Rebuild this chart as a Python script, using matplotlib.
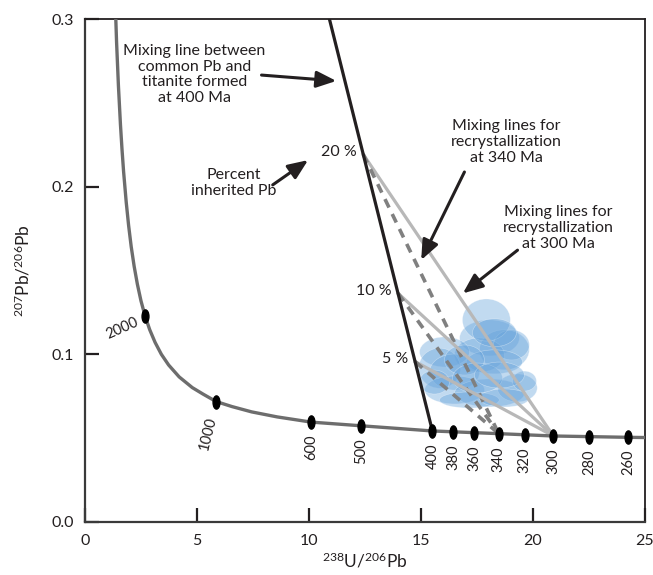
import matplotlib
matplotlib.use('Agg')
import matplotlib.pyplot as plt
from matplotlib.patches import Ellipse
from matplotlib.markers import MarkerStyle
from matplotlib.transforms import Affine2D

plt.rcParams['font.family'] = ['Lato', 'DejaVu Sans']
plt.rcParams['mathtext.fontset'] = 'custom'
plt.rcParams['mathtext.rm'] = 'Lato'
plt.rcParams['mathtext.default'] = 'regular'

# Concordia curve
conc_x = [1.355, 1.37, 1.408, 1.491, 1.583, 1.650, 1.721, 1.839, 1.946, 2.062, 2.193, 2.337, 2.497,
          2.68, 2.888, 3.129, 3.408, 3.733, 4.203, 4.790, 5.273, 5.85, 6.554, 7.439, 8.578,
          10.09, 12.32, 15.51, 18.47, 20.91, 24.26, 25.5]
conc_y = [0.310, 0.302, 0.2867, 0.2605, 0.2370, 0.2227, 0.2093, 0.1909, 0.1770, 0.1643, 0.1526, 0.1419, 0.1320,
          0.1229, 0.1147, 0.1071, 0.1000, 0.0936, 0.0865, 0.0801, 0.0762, 0.0718, 0.0688, 0.0656, 0.0626,
          0.0595, 0.0573, 0.0542, 0.0526, 0.0512, 0.0504, 0.0502]

# Age markers on the concordia (Ma)
age_labels = ['2000', '1000', '600', '500', '400', '380', '360', '340', '320', '300', '280', '260']
age_x = [2.68, 5.85, 10.09, 12.32, 15.51, 16.43, 17.38, 18.47, 19.64, 20.91, 22.51, 24.26]
age_y = [0.1229, 0.0718, 0.0595, 0.0573, 0.0542, 0.0538, 0.0532, 0.0526, 0.0520, 0.0512, 0.0508, 0.0504]

# Mixing line common Pb - 400 Ma titanite
mix400_x = [15.51, 10.73]
mix400_y = [0.0542, 0.31]

# Percent inherited Pb points on the 400 Ma line
pct_labels = ['20 %', '10 %', '5 %']
pct_x = [12.42, 13.98, 14.74]
pct_y = [0.2195, 0.1364, 0.0956]

# recrystallization end points on concordia
rec300 = (20.91, 0.0512)
rec340 = (18.47, 0.0526)

# Blue cloud of analyses (ellipses)
cloud_x = [18.06, 18.72, 17.61, 19.04, 18.28, 16.05, 15.83, 16.50, 16.94, 16.50,
           18.06, 19.30, 17.16, 18.72, 19.62, 15.60, 17.92, 18.28, 17.52, 18.50]
cloud_y = [0.1098, 0.1027, 0.0996, 0.1056, 0.0955, 0.1014, 0.0917, 0.0894, 0.0966, 0.0787,
           0.0769, 0.0799, 0.0727, 0.0739, 0.0840, 0.0834, 0.1205, 0.1129, 0.0858, 0.0876]
cloud_w = [2.67, 2.23, 2.23, 1.60, 2.50, 2.23, 1.87, 2.23, 1.78, 2.67,
           3.12, 1.78, 2.67, 2.23, 1.07, 1.34, 2.14, 1.96, 2.23, 2.23]
cloud_h = [0.0215, 0.0239, 0.0203, 0.0179, 0.0143, 0.0179, 0.0239, 0.0215, 0.0179, 0.0167,
           0.0167, 0.0167, 0.0096, 0.0108, 0.0119, 0.0143, 0.0251, 0.0167, 0.0179, 0.0155]

dark = '#231f20'

fig = plt.figure(figsize=(6.53, 5.75), dpi=100)
ax = fig.add_axes([0.1302, 0.0927, 0.8575, 0.8734])
ax.set_xlim(0, 25)
ax.set_ylim(0, 0.3)

for cx, cy, w, h in zip(cloud_x, cloud_y, cloud_w, cloud_h):
    ax.add_patch(Ellipse((cx, cy), w, h, facecolor=(0.40, 0.64, 0.86, 0.40),
                         edgecolor=(1, 1, 1, 0.45), lw=0.4, zorder=1))

ax.plot(conc_x, conc_y, color='#6d6d6d', lw=2.4, zorder=3, solid_joinstyle='round')

for px, py in zip(pct_x, pct_y):
    ax.plot([px, rec300[0]], [py, rec300[1]], color='#b8b8b8', lw=2.3, zorder=2)
    ax.plot([px, rec340[0]], [py, rec340[1]], color='#808080', lw=2.6, zorder=2,
            dashes=(2.6, 2.0))

ax.plot(mix400_x, mix400_y, color=dark, lw=2.3, zorder=4)

ell = MarkerStyle('o', transform=Affine2D().scale(0.52, 1.0))
ax.plot(age_x, age_y, ls='none', marker=ell, ms=9.5, color='black', zorder=5)

# age labels
for lab, x, y in zip(age_labels[2:], age_x[2:], age_y[2:]):
    ax.annotate(lab, (x, y), xytext=(0, -9), textcoords='offset points',
                rotation=90, ha='center', va='top', fontsize=10.5, color=dark)
ax.text(1.67, 0.1157, '2000', rotation=24, ha='center', va='center', fontsize=10.5, color=dark)
ax.text(5.50, 0.0527, '1000', rotation=76, ha='center', va='center', fontsize=10.5, color=dark)

for lab, x, y in zip(pct_labels, pct_x, pct_y):
    ax.text(x - 0.3, y + 0.0015, lab, ha='right', va='center', fontsize=11.5, color=dark)

arr = dict(arrowstyle='-|>,head_length=0.6,head_width=0.25', lw=2.2, color=dark,
           shrinkA=0, shrinkB=0, mutation_scale=20)

ax.text(4.88, 0.2671, 'Mixing line between\ncommon Pb and\ntitanite formed\nat 400 Ma',
        ha='center', va='center', fontsize=11.5, color=dark, linespacing=1.15)
ax.annotate('', xy=(11.22, 0.2633), xytext=(7.88, 0.2668), arrowprops=arr)

ax.text(6.64, 0.2022, 'Percent\ninherited Pb', ha='center', va='center',
        fontsize=11.5, color=dark, linespacing=1.15)
ax.annotate('', xy=(9.96, 0.2160), xytext=(8.38, 0.2012), arrowprops=arr)

ax.text(18.80, 0.2268, 'Mixing lines for\nrecrystallization\nat 340 Ma', ha='center', va='center',
        fontsize=11.5, color=dark, linespacing=1.15)
ax.annotate('', xy=(15.01, 0.1563), xytext=(16.94, 0.2089), arrowprops=arr)

ax.text(21.13, 0.1754, 'Mixing lines for\nrecrystallization\nat 300 Ma', ha='center', va='center',
        fontsize=11.5, color=dark, linespacing=1.15)
ax.annotate('', xy=(16.87, 0.1364), xytext=(19.31, 0.1622), arrowprops=arr)

ax.set_xticks([0, 5, 10, 15, 20, 25])
ax.set_yticks([0.0, 0.1, 0.2, 0.3])
ax.set_yticklabels(['0.0', '0.1', '0.2', '0.3'])
ax.tick_params(direction='in', length=10, width=1.6, labelsize=11.5, color=dark, labelcolor=dark)
ax.tick_params(axis='x', pad=9)
ax.tick_params(axis='y', pad=8)
for s in ['left', 'bottom']:
    ax.spines[s].set_linewidth(1.6)
    ax.spines[s].set_color('#3a3a3a')
for s in ['top', 'right']:
    ax.spines[s].set_linewidth(1.3)
    ax.spines[s].set_color(dark)

ax.set_xlabel(r'$^{238}$U/$^{206}$Pb', fontsize=12.5, color=dark)
ax.set_ylabel(r'$^{207}$Pb/$^{206}$Pb', fontsize=12.5, color=dark)
ax.xaxis.set_label_coords(0.5, -0.058)
ax.yaxis.set_label_coords(-0.093, 0.5)

fig.savefig('out.png', dpi=100)
